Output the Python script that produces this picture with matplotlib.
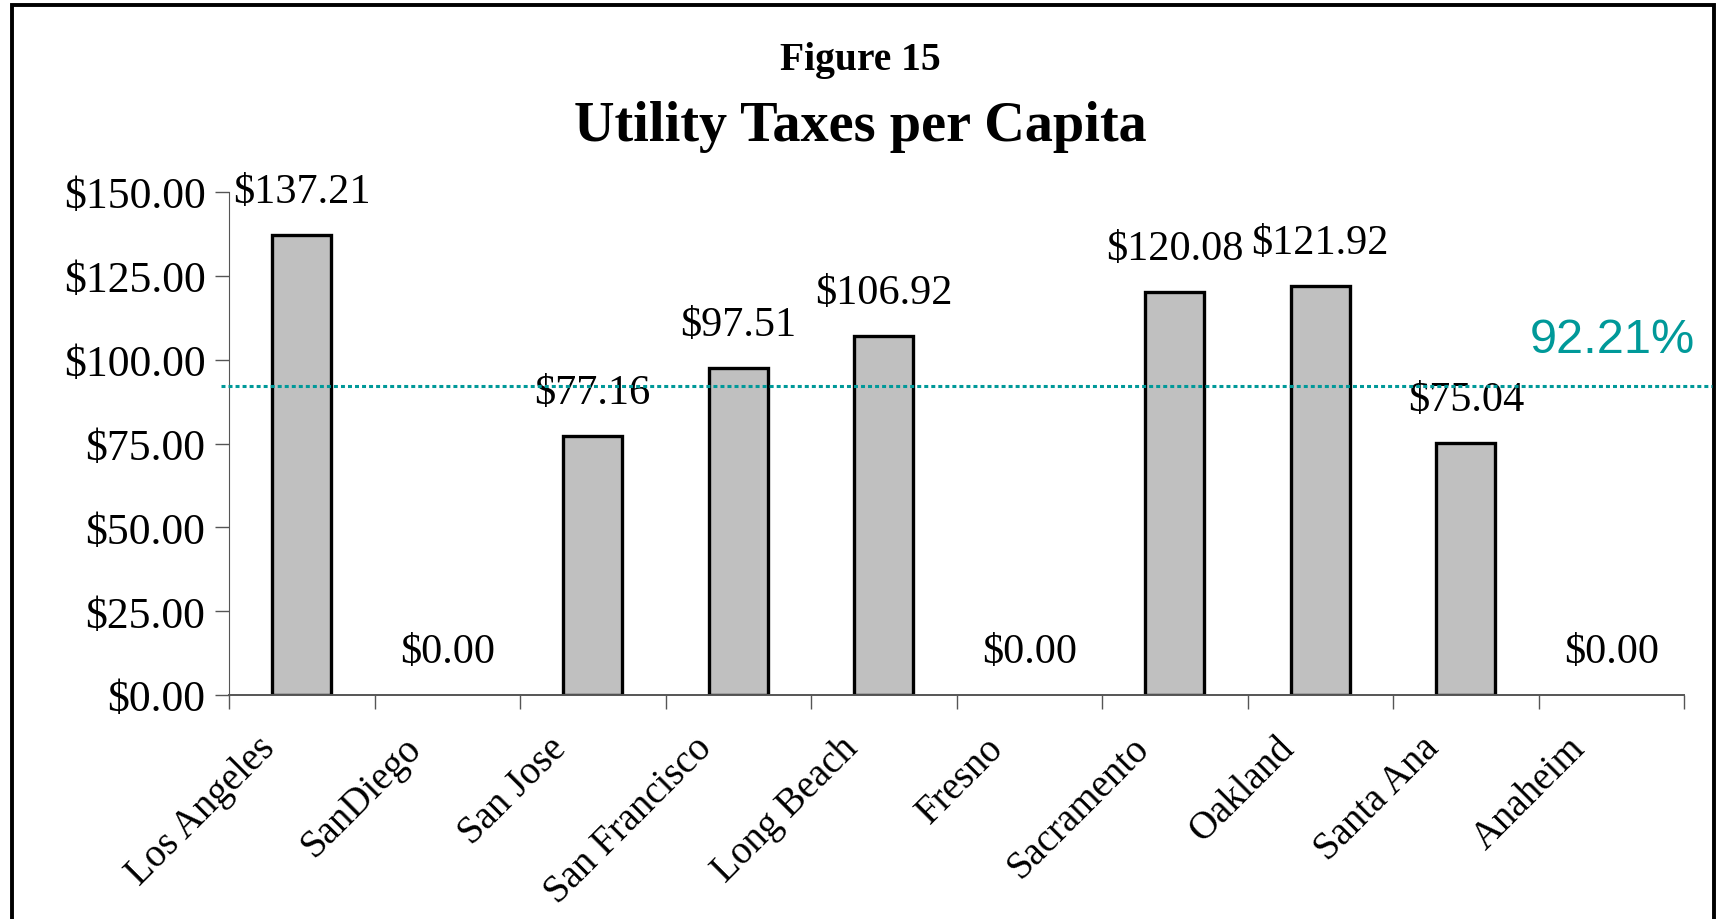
import numpy as np
import matplotlib
matplotlib.use("Agg")
import matplotlib.pyplot as plt
from matplotlib.patches import Rectangle
from matplotlib.lines import Line2D
from matplotlib.transforms import blended_transform_factory, ScaledTranslation

cities = ["Los Angeles", "SanDiego", "San Jose", "San Francisco", "Long Beach",
          "Fresno", "Sacramento", "Oakland", "Santa Ana", "Anaheim"]
taxes = [137.21, 0.00, 77.16, 97.51, 106.92, 0.00, 120.08, 121.92, 75.04, 0.00]
avg_line = 92.21
yticks = [0, 25, 50, 75, 100, 125, 150]

plt.rcParams['font.family'] = ['Liberation Serif', 'DejaVu Serif']

W, H = 1720, 920
fig = plt.figure(figsize=(W / 100, H / 100), dpi=100)
ax = fig.add_axes([229/W, (H-696)/H, (1684-229)/W, (696-193)/H])

x = np.arange(len(cities))
edge_w = [2.4 if v > 0 else 0 for v in taxes]
ax.bar(x, taxes, width=0.405, color='#c0c0c0', edgecolor='black', linewidth=edge_w, zorder=2)

for xi, v in zip(x, taxes):
    ax.annotate("$%.2f" % v, (xi, v), xytext=(0, 33), textcoords='offset pixels',
                ha='center', va='baseline', fontsize=30.5)

ax.set_xlim(-0.5, 9.5)
ax.set_ylim(0, 150)
ax.set_yticks(yticks)
ax.set_yticklabels(["$%.2f" % t for t in yticks], fontsize=31.5)
ax.set_xticks(x)
ax.set_xticklabels(cities, rotation=45, ha='right', va='baseline',
                   rotation_mode='anchor', fontsize=28)
ax.set_xticks(np.arange(-0.5, 10, 1), minor=True)
ax.tick_params(axis='x', which='major', length=0, pad=39)
ax.tick_params(axis='x', which='minor', length=10, width=1, color='#555555', direction='out')
ax.tick_params(axis='y', length=10, width=1, color='#555555', pad=7)

# shift the slanted city names left of their bar centres
shift = ScaledTranslation(-18/72, 0, fig.dpi_scale_trans)
for lab in ax.get_xticklabels():
    lab.set_transform(lab.get_transform() + shift)

for s in ['top', 'right']:
    ax.spines[s].set_visible(False)
ax.spines['left'].set_color('#555555')
ax.spines['bottom'].set_color('#555555')
ax.spines['bottom'].set_linewidth(1.4)

# average line runs past the axes to the frame
trans = blended_transform_factory(fig.transFigure, ax.transData)
fig.add_artist(Line2D([221/W, 1712/W], [avg_line, avg_line], transform=trans,
                      color='#009999', linewidth=2.2, linestyle=(0, (1.3, 1.0)),
                      dash_capstyle='butt', zorder=3))
fig.text(1612/W, 1 - 353/H, "92.21%", color='#009999', fontsize=35,
         family='Liberation Sans', ha='center', va='baseline')

fig.text(0.5, 1 - 70/H, "Figure 15", fontsize=28.5, fontweight='bold', ha='center', va='baseline')
fig.text(0.5, 1 - 141/H, "Utility Taxes per Capita", fontsize=40.5, fontweight='bold',
         ha='center', va='baseline')

fig.add_artist(Rectangle((12/W, -0.1), (1714-12)/W, 1.1 - 6/H,
                         transform=fig.transFigure, fill=False, edgecolor='black',
                         linewidth=2.8, clip_on=False))

fig.savefig("out.png", dpi=100)
